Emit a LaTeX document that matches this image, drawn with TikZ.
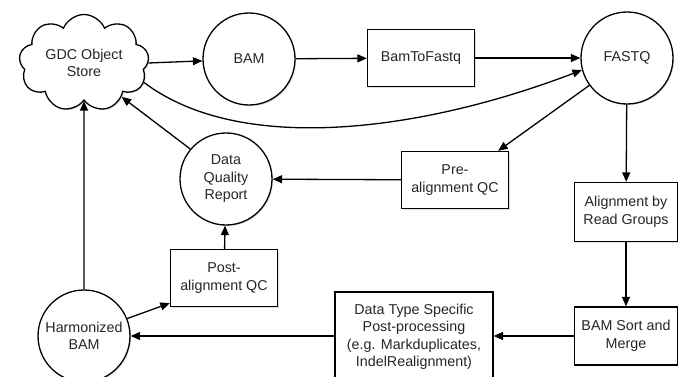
\documentclass[tikz,border=0pt]{standalone}
\usepackage{fontspec}
\setmainfont{Liberation Sans}
\usetikzlibrary{shapes.symbols,arrows.meta,shadows,calc}
\begin{document}
\begin{tikzpicture}[x=1pt,y=-1pt,
  every node/.style={font=\fontsize{14.3}{17.5}\selectfont, align=center, text=black!85},
  shade/.style={drop shadow={opacity=0.25, shadow xshift=1.2pt, shadow yshift=-1.2pt}},
  roundnode/.style={circle, draw, line width=1.3pt, fill=white, minimum size=92pt, inner sep=0pt, shade},
  boxnode/.style={rectangle, draw, line width=1.3pt, fill=white, inner sep=0pt, shade},
  flow/.style={line width=1.3pt, -{Triangle[length=9.5pt,width=8pt]}}]
\useasboundingbox (0,0) rectangle (678,377);

% stores and data sets
\node[cloud, draw, line width=1.3pt, fill=white, cloud puffs=9, cloud puff arc=135,
      cloud ignores aspect, minimum width=130pt, minimum height=97pt, inner sep=-10pt, shade] (cloud) at (84,63) {GDC Object\\Store};
\node[roundnode] (bam) at (249,59) {BAM};
\node[roundnode] (fastq) at (627,58) {FASTQ};
\node[roundnode] (dqr) at (226,179) {Data\\Quality\\Report};
\node[roundnode] (harm) at (84,336) {Harmonized\\BAM};

% processing steps
\node[boxnode, minimum width=107pt, minimum height=57pt] (b2f) at (421,58) {BamToFastq};
\node[boxnode, minimum width=107pt, minimum height=57pt] (preqc) at (455,180) {Pre-\\alignment QC};
\node[boxnode, minimum width=103pt, minimum height=59pt] (align) at (626,212) {Alignment by\\Read Groups};
\node[boxnode, minimum width=103pt, minimum height=58pt] (sort) at (626,336) {BAM Sort and\\Merge};
\node[boxnode, minimum width=158pt, minimum height=90pt] (dtype) at (414,337) {Data Type Specific\\Post-processing\\(e.g. Markduplicates,\\IndelRealignment)};
\node[boxnode, minimum width=107pt, minimum height=57pt] (postqc) at (224,278) {Post-\\alignment QC};

% connectors
\draw[flow] (cloud.east) -- (bam);
\draw[flow] (bam) -- (b2f);
\draw[flow] (b2f) -- (fastq);
\draw[flow] (cloud.-18) .. controls (240,155) and (420,132) .. (fastq.195);
\draw[flow] (fastq.216) -- ([xshift=-11pt]preqc.north east);
\draw[flow] (fastq) -- (align);
\draw[flow] (align) -- (sort);
\draw[flow] (sort.west) -- (sort.west -| dtype.east);
\draw[flow] (dtype.west |- harm) -- (harm);
\draw[flow] (harm.22) -- ([yshift=4pt]postqc.south west);
\draw[flow] (postqc) -- (dqr);
\draw[flow] (preqc) -- (dqr);
\draw[flow] (dqr.140) -- (cloud.-42);
\draw[flow] (harm) -- (cloud);
\end{tikzpicture}
\end{document}
